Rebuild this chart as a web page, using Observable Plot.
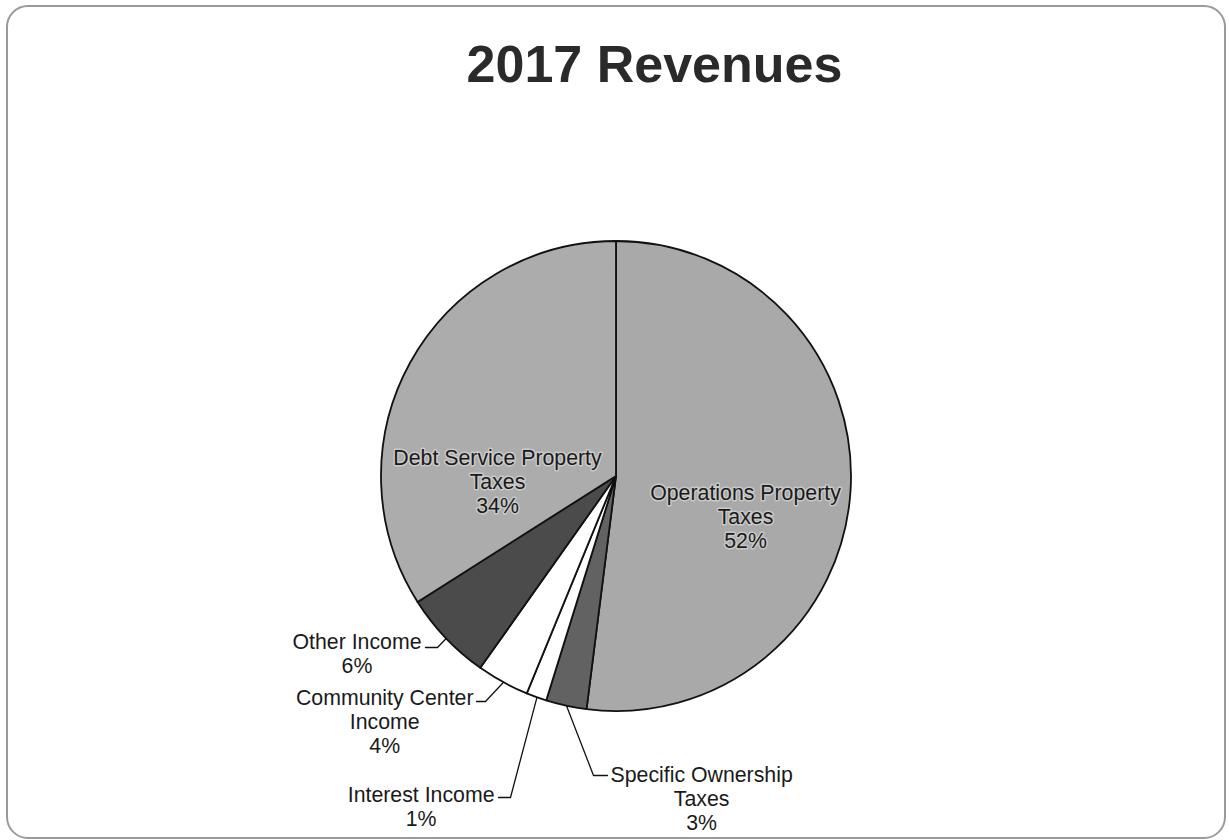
<!DOCTYPE html>
<html>
<head>
<meta charset="utf-8">
<script src="https://cdn.jsdelivr.net/npm/d3@7"></script>
<script src="https://cdn.jsdelivr.net/npm/@observablehq/plot@0.6"></script>
<style>
  html, body { margin: 0; padding: 0; background: #fff; }
  body { width: 1229px; height: 840px; position: relative; overflow: hidden; font-family: "Liberation Sans", Arial, sans-serif; }
  #frame { position: absolute; left: 6px; top: 5px; width: 1216px; height: 830px; border: 2px solid #9a9a9a; border-radius: 22px; box-sizing: content-box; }
  #title { position: absolute; left: 0; top: 34px; width: 1229px; padding-left: 80px; box-sizing: border-box; text-align: center; font-size: 52px; font-weight: bold; color: #2a2a2a; line-height: 60px; }
  #chart { position: absolute; left: 0; top: 120px; }
</style>
</head>
<body>
<div id="frame"></div>
<div id="title">2017 Revenues</div>
<div id="chart"></div>
<script>
// ---- data ----
const categories = ["Operations Property Taxes", "Specific Ownership Taxes", "Interest Income", "Community Center Income", "Other Income", "Debt Service Property Taxes"];
const shares = [52.0, 2.8, 1.4, 3.6, 6.2, 34.0];
const percentLabels = ["52%", "3%", "1%", "4%", "6%", "34%"];
const labelLines = [
  ["Operations Property", "Taxes", "52%"],
  ["Specific Ownership", "Taxes", "3%"],
  ["Interest Income", "1%"],
  ["Community Center", "Income", "4%"],
  ["Other Income", "6%"],
  ["Debt Service Property", "Taxes", "34%"]
];

// ---- styles / layout (not data) ----
const fills = ["#a9a9a9", "#626262", "#ffffff", "#ffffff", "#4b4b4b", "#acacac"];
const W = 1229, H = 715;
const CX = 616, CY = 356;   // pie centre in svg pixels
const R = 235;              // pie radius in scale units
const FONT_SIZE = 21.3;
const FONT = "Liberation Sans, Arial, sans-serif";
// label anchors (offsets from centre, y up): x = centre (inside) or near end of first line (outside); y = first line
const layout = [
  {x: 129, y: -17, inside: true},
  {x: -6, y: -299, anchor: "start", elbow: {x: -23, y: -299}, hx: -9},
  {x: -122, y: -319, anchor: "end", elbow: {x: -106, y: -321}, hx: -118},
  {x: -143, y: -222, anchor: "end", elbow: {x: -131, y: -225}, hx: -140},
  {x: -195, y: -166, anchor: "end", elbow: {x: -179, y: -171}, hx: -191},
  {x: -119, y: 18, inside: true}
];
const lineH = 24;

const ctx = document.createElement("canvas").getContext("2d");
ctx.font = `${FONT_SIZE}px "Liberation Sans"`;
const measure = t => ctx.measureText(t).width;

const pie = d3.pie().sort(null).value(d => d.value);
const table = categories.map((c, i) => ({name: c, value: shares[i], pct: percentLabels[i], lines: labelLines[i], fill: fills[i], i}));
const arcs = pie(table);

const insideRows = [];
const outsideRows = [];
const leaders = [];
arcs.forEach((a, i) => {
  const L = layout[i];
  const lines = a.data.lines;
  if (L.inside) {
    lines.forEach((t, k) => insideRows.push({x: L.x, y: L.y - k * lineH, text: t}));
  } else {
    const w = measure(lines[0]);
    const cx = L.anchor === "end" ? L.x - w / 2 : L.x + w / 2;
    lines.forEach((t, k) => outsideRows.push({x: cx, y: L.y - k * lineH, text: t}));
    const mid = (a.startAngle + a.endAngle) / 2;
    leaders.push({x: R * Math.sin(mid), y: R * Math.cos(mid), g: i, o: 0});
    leaders.push({x: L.elbow.x, y: L.elbow.y, g: i, o: 1});
    leaders.push({x: L.hx, y: L.elbow.y, g: i, o: 2});
  }
});

const pieMark = (index, scales, values, dimensions, context) => {
  const g = d3.create("svg:g");
  const x0 = scales.x(0), y0 = scales.y(0);
  const rpx = scales.x(R) - scales.x(0);
  const arc = d3.arc().innerRadius(0).outerRadius(rpx);
  g.attr("transform", `translate(${x0},${y0})`);
  g.selectAll("path").data(arcs).join("path")
    .attr("d", arc)
    .attr("fill", d => d.data.fill)
    .attr("stroke", "#111")
    .attr("stroke-width", 1.8)
    .attr("stroke-linejoin", "round");
  return g.node();
};

const plot = Plot.plot({
  width: W,
  height: H,
  margin: 0,
  x: {domain: [-CX, W - CX], range: [0, W], axis: null},
  y: {domain: [-(H - CY), CY], range: [H, 0], axis: null},
  style: {background: "transparent", overflow: "visible"},
  marks: [
    pieMark,
    Plot.line(leaders, {x: "x", y: "y", z: "g", sort: "o", stroke: "#111", strokeWidth: 1.3}),
    Plot.text(insideRows, {
      x: "x", y: "y", text: "text", textAnchor: "middle",
      fontSize: FONT_SIZE, fontFamily: FONT, fill: "#1a1a1a",
      stroke: "#dedede", strokeWidth: 3, strokeOpacity: 0.6
    }),
    Plot.text(outsideRows, {
      x: "x", y: "y", text: "text", textAnchor: "middle",
      fontSize: FONT_SIZE, fontFamily: FONT, fill: "#1a1a1a"
    })
  ]
});
document.getElementById("chart").appendChild(plot);
</script>
</body>
</html>
